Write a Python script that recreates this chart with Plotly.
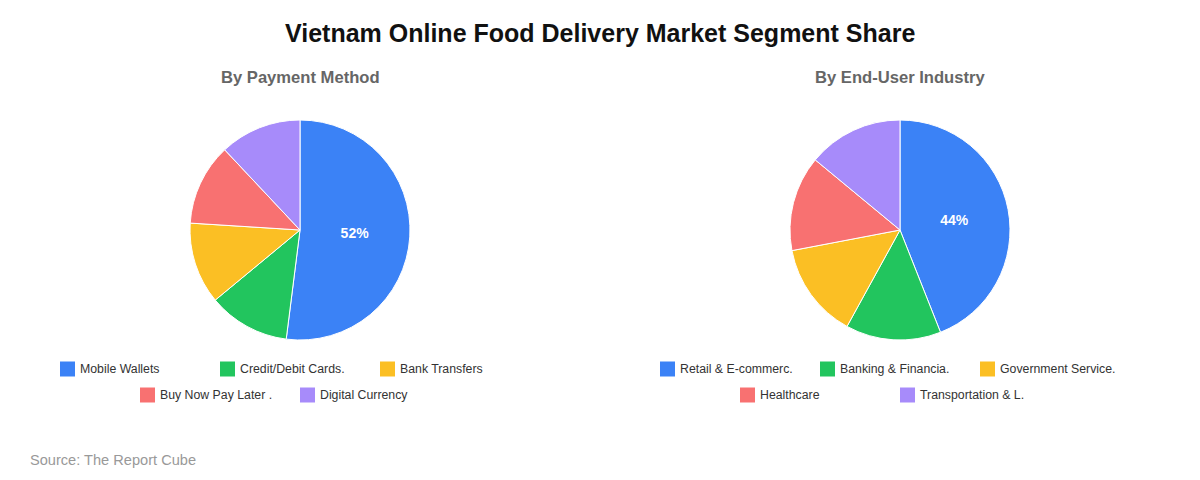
import plotly.graph_objects as go

title = "Vietnam Online Food Delivery Market Segment Share"
source = "Source: The Report Cube"

pay_title = "By Payment Method"
pay_labels = ["Mobile Wallets", "Credit/Debit Cards.", "Bank Transfers", "Buy Now Pay Later .", "Digital Currency"]
pay_values = [52, 12, 12, 12, 12]

ind_title = "By End-User Industry"
ind_labels = ["Retail & E-commerc.", "Banking & Financia.", "Government Service.", "Healthcare", "Transportation & L."]
ind_values = [44, 14, 14, 14, 14]

colors = ["#3B82F6", "#22C55E", "#FBBF24", "#F87171", "#A78BFA"]

W, H = 1200, 480
OFF = 8  # page body margin
FONT = "Liberation Sans, Arial, sans-serif"


def px(x):
    return (x - OFF) / W


def py(y):
    return 1 - (y - OFF) / H


fig = go.Figure()


def pie_text(values):
    m = max(values)
    tot = sum(values)
    return [f"{round(v / tot * 100)}%" if v == m else "" for v in values]


centers = [300, 900]
radius = 110
cy = 230
for cx, labels, values in [(centers[0], pay_labels, pay_values), (centers[1], ind_labels, ind_values)]:
    fig.add_trace(go.Pie(
        labels=labels, values=values, sort=False, direction="clockwise", rotation=0,
        marker=dict(colors=colors, line=dict(color="white", width=1)),
        text=pie_text(values), textinfo="text", textposition="inside",
        insidetextfont=dict(color="white", size=14, family=FONT, weight="bold"),
        hoverinfo="label+percent", showlegend=False,
        domain=dict(x=[px(cx - radius), px(cx + radius)],
                    y=[py(cy + radius), py(cy - radius)]),
    ))

annotations = [
    dict(text=f"<b>{title}</b>", x=px(600), y=py(33), xref="paper", yref="paper",
         showarrow=False, font=dict(size=25, color="#111111", family=FONT), xanchor="center", yanchor="middle"),
    dict(text=f"<b>{pay_title}</b>", x=px(centers[0]), y=py(77), xref="paper", yref="paper",
         showarrow=False, font=dict(size=16.6, color="#666666", family=FONT), xanchor="center", yanchor="middle"),
    dict(text=f"<b>{ind_title}</b>", x=px(centers[1]), y=py(77), xref="paper", yref="paper",
         showarrow=False, font=dict(size=16.6, color="#666666", family=FONT), xanchor="center", yanchor="middle"),
    dict(text=source, x=px(28), y=py(460), xref="paper", yref="paper",
         showarrow=False, font=dict(size=14.6, color="#999999", family=FONT), xanchor="left", yanchor="middle"),
]
shapes = []

# Manual legends (rows of 3 then 2, second row centered)
row_pos = [[(60, 369), (220, 369), (380, 369)], [(140, 395), (300, 395)]]
flat = row_pos[0] + row_pos[1]
for offset, labels in [(0, pay_labels), (600, ind_labels)]:
    for i, lab in enumerate(labels):
        lx, ly = flat[i]
        lx += offset
        shapes.append(dict(type="rect", xref="paper", yref="paper",
                           x0=px(lx), x1=px(lx + 15), y0=py(ly + 7.5), y1=py(ly - 7.5),
                           fillcolor=colors[i], line=dict(width=0)))
        annotations.append(dict(text=lab, x=px(lx + 18), y=py(ly), xref="paper", yref="paper",
                                showarrow=False, xanchor="left", yanchor="middle",
                                font=dict(size=12.3, color="#333333", family=FONT)))

fig.update_layout(
    width=W, height=H, margin=dict(l=0, r=0, t=0, b=0),
    paper_bgcolor="white", plot_bgcolor="white",
    annotations=annotations, shapes=shapes,
    font=dict(family=FONT),
)

fig.write_html("out.html")
